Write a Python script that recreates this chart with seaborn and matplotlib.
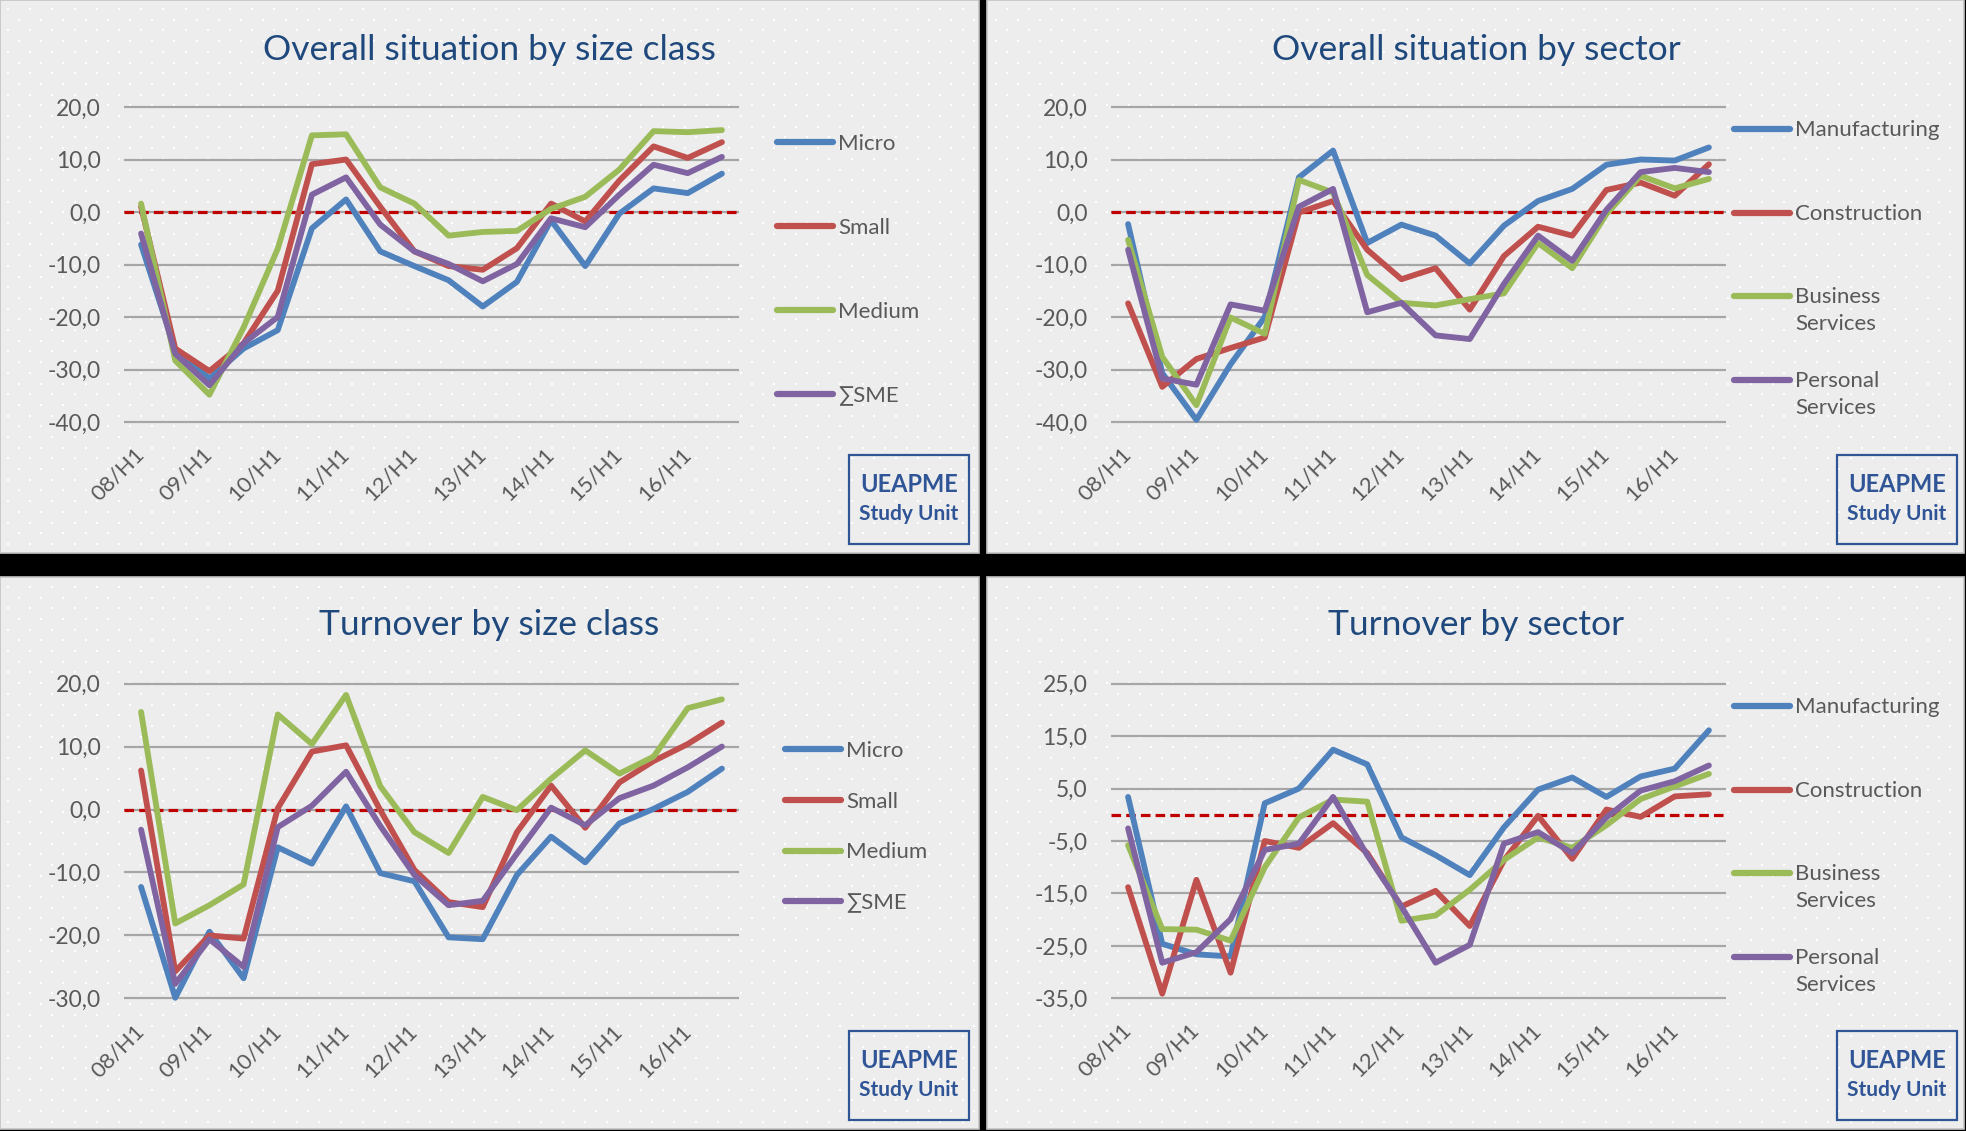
import numpy as np
import pandas as pd
import matplotlib
matplotlib.use("Agg")
import matplotlib.pyplot as plt
import seaborn as sns
from matplotlib.patches import Rectangle
from matplotlib.ticker import FuncFormatter
from matplotlib.offsetbox import HPacker

# ---------------- data ----------------
periods = ["08/H1", "08/H2", "09/H1", "09/H2", "10/H1", "10/H2", "11/H1", "11/H2", "12/H1",
           "12/H2", "13/H1", "13/H2", "14/H1", "14/H2", "15/H1", "15/H2", "16/H1", "16/H2"]

size_series = ["Micro", "Small", "Medium", "∑SME"]
sector_series = ["Manufacturing", "Construction", "Business Services", "Personal Services"]

# Overall situation by size class
os_micro = [-6.2, -26.3, -31.7, -26.0, -22.5, -3.1, 2.4, -7.5, -10.3, -13.0, -18.0, -13.3, -1.6, -10.3, -0.3, 4.5, 3.6, 7.3]
os_small = [1.0, -26.0, -30.3, -25.0, -15.0, 9.1, 10.0, 1.0, -7.5, -10.3, -11.0, -6.9, 1.6, -1.8, 6.0, 12.5, 10.3, 13.3]
os_medium = [1.6, -28.3, -34.8, -22.0, -7.0, 14.6, 14.8, 4.7, 1.6, -4.5, -3.8, -3.6, 0.6, 2.9, 8.1, 15.4, 15.2, 15.6]
os_sme = [-4.1, -27.0, -33.0, -25.0, -20.0, 3.3, 6.6, -2.4, -7.5, -9.9, -13.2, -9.9, -1.2, -2.9, 3.3, 9.0, 7.4, 10.5]

# Overall situation by sector
os_manu = [-2.3, -30.7, -39.6, -29.0, -20.0, 6.6, 11.7, -5.9, -2.4, -4.5, -9.8, -2.6, 2.1, 4.4, 9.0, 10.0, 9.8, 12.3]
os_cons = [-17.4, -33.3, -28.0, -25.9, -23.9, -0.1, 2.1, -7.2, -12.8, -10.7, -18.6, -8.4, -2.8, -4.5, 4.2, 5.6, 3.1, 9.1]
os_bus = [-5.3, -27.6, -36.8, -20.1, -23.2, 6.1, 3.7, -12.0, -17.3, -17.8, -16.6, -15.5, -5.9, -10.7, -0.4, 6.9, 4.5, 6.3]
os_pers = [-7.2, -31.7, -32.9, -17.6, -18.8, 1.0, 4.4, -19.1, -17.3, -23.5, -24.2, -13.7, -4.5, -9.3, 0.4, 7.6, 8.4, 7.6]

# Turnover by size class
to_micro = [-12.3, -29.9, -19.4, -26.8, -6.0, -8.6, 0.5, -10.1, -11.4, -20.3, -20.6, -10.4, -4.3, -8.4, -2.2, 0.1, 2.8, 6.5]
to_small = [6.2, -25.7, -20.0, -20.5, 0.2, 9.2, 10.2, -0.1, -9.6, -14.7, -15.5, -3.6, 3.8, -2.9, 4.3, 7.7, 10.4, 13.8]
to_medium = [15.5, -18.1, -15.2, -11.9, 15.1, 10.4, 18.2, 3.7, -3.6, -6.9, 2.0, -0.1, 4.9, 9.4, 5.7, 8.4, 16.1, 17.5]
to_sme = [-3.2, -27.7, -20.6, -25.0, -2.8, 0.6, 6.0, -2.6, -10.4, -15.2, -14.5, -7.0, 0.3, -2.5, 1.8, 3.8, 6.7, 10.0]

# Turnover by sector
to_manu = [3.4, -24.6, -26.6, -27.0, 2.2, 5.0, 12.4, 9.6, -4.3, -7.7, -11.5, -2.4, 4.8, 7.1, 3.4, 7.3, 8.8, 16.1]
to_cons = [-13.8, -34.1, -12.4, -30.1, -5.0, -6.3, -1.6, -7.3, -17.5, -14.5, -21.2, -8.7, -0.2, -8.4, 1.0, -0.4, 3.5, 3.9]
to_bus = [-5.8, -21.8, -21.9, -24.0, -10.0, -0.5, 2.9, 2.5, -20.2, -19.2, -14.3, -8.6, -4.3, -6.3, -2.0, 3.0, 5.4, 7.8]
to_pers = [-2.6, -28.2, -26.2, -19.9, -6.7, -5.5, 3.4, -7.7, -17.5, -28.2, -24.8, -5.5, -3.3, -7.3, -0.5, 4.6, 6.4, 9.4]

titles = ["Overall situation by size class", "Overall situation by sector",
          "Turnover by size class", "Turnover by sector"]
colors = ["#4F81BD", "#C0504D", "#9BBB59", "#8064A2"]

# ---------------- style ----------------
W, H = 1966, 1131
sns.set_theme(style="white")
plt.rcParams["font.family"] = ["Lato", "DejaVu Sans"]
TXT = "#595959"
NAVY = "#1F497D"
BOX = "#2F5597"

fig = plt.figure(figsize=(W / 100, H / 100), dpi=100, facecolor="black")
bg = fig.add_axes([0, 0, 1, 1], zorder=0)
bg.set_xlim(0, W)
bg.set_ylim(H, 0)
bg.axis("off")

panels = [(0, 0, 979, 553), (987, 0, 1964, 553), (0, 577, 979, 1129), (987, 577, 1964, 1129)]
for (x0, y0, x1, y1) in panels:
    bg.add_patch(Rectangle((x0, y0), x1 - x0, y1 - y0, facecolor="#EDEDED",
                           edgecolor="#C4C4C4", lw=1.2, zorder=0))

# dotted background texture
dx, dy = [], []
for k, yy in enumerate(np.arange(9, H, 10.7)):
    for xx in np.arange(8 + (k % 2) * 11.1, W, 22.2):
        for (x0, y0, x1, y1) in panels:
            if x0 + 3 < xx < x1 - 3 and y0 + 3 < yy < y1 - 3:
                dx.append(xx)
                dy.append(yy)
                break
bg.scatter(dx, dy, s=3.5, marker="s", c="white", linewidths=0, zorder=1)

fmt = FuncFormatter(lambda v, p: f"{v:.1f}".replace(".", ","))


def px_axes(left, right, top, bottom, ymin, ymax, pad=0.45):
    ppu = (bottom - top) / (ymax - ymin)
    t = top - pad * ppu
    b = bottom + pad * ppu
    return fig.add_axes([left / W, 1 - b / H, (right - left) / W, (b - t) / H], zorder=2)


def draw_panel(rect, ylim, yticks, series_names, values, labels, leg_xy, spacing,
               multiline, title, title_xy, box_xy):
    left, right, top, bottom = rect
    ax = px_axes(left, right, top, bottom, ylim[0], ylim[1])
    ax.set_facecolor("none")
    df = pd.DataFrame({
        "x": np.tile(np.arange(len(periods)), len(series_names)),
        "value": np.concatenate(values),
        "series": np.repeat(series_names, len(periods)),
    })
    ax.axhline(0, color="#C00000", lw=2.3, ls=(0, (3, 1.6)), zorder=1.5)
    sns.lineplot(data=df, x="x", y="value", hue="series", hue_order=series_names,
                 palette=colors, linewidth=4.2, ax=ax, legend=True,
                 solid_joinstyle="round", solid_capstyle="round", zorder=2)
    old = ax.get_legend()
    handles = list(old.legend_handles)
    old.remove()
    pad_u = 0.45
    ax.set_ylim(ylim[0] - pad_u, ylim[1] + pad_u)
    ax.set_xlim(-0.5, len(periods) - 0.5)
    ax.set_yticks(yticks)
    ax.yaxis.set_major_formatter(fmt)
    ax.set_xticks(range(0, len(periods), 2))
    ax.set_xticklabels(periods[::2], rotation=45, ha="right", va="center",
                       rotation_mode="anchor")
    ax.tick_params(axis="y", length=0, pad=17, labelsize=16.5, labelcolor=TXT)
    ax.tick_params(axis="x", length=0, pad=19, labelsize=16, labelcolor=TXT)
    ax.set_xlabel("")
    ax.set_ylabel("")
    ax.yaxis.grid(True, color="#A6A6A6", lw=1.6)
    ax.xaxis.grid(False)
    ax.set_axisbelow(True)
    for s in ax.spines.values():
        s.set_visible(False)

    leg = ax.legend(handles, labels, loc="upper left",
                    bbox_to_anchor=(leg_xy[0] / W, 1 - leg_xy[1] / H),
                    bbox_transform=fig.transFigure, frameon=False, fontsize=16,
                    handlelength=2.5, handletextpad=0.25, borderpad=0, borderaxespad=0,
                    labelspacing=spacing, labelcolor=TXT,
                    handleheight=(1.0 if multiline else 0.7))
    for ln in leg.get_lines():
        ln.set_linewidth(4.5)
        ln.set_solid_capstyle("round")
    if multiline:
        for t in leg.get_texts():
            t.set_linespacing(1.4)
        for hp in leg.findobj(HPacker):
            hp.align = "top"

    bg.text(title_xy[0], title_xy[1], title, ha="center", va="baseline",
            fontsize=25.5, color=NAVY, zorder=3)
    bx, by = box_xy
    bg.add_patch(Rectangle((bx, by), 120, 89, fill=False, edgecolor=BOX, lw=1.6, zorder=3))
    bg.text(bx + 60, by + 30, "UEAPME", ha="center", va="center", fontsize=17,
            fontweight="bold", color=BOX, zorder=3)
    bg.text(bx + 60, by + 59, "Study Unit", ha="center", va="center", fontsize=15,
            fontweight="bold", color=BOX, zorder=3)
    return ax


sector_labels = ["Manufacturing\n", "Construction\n", "Business\nServices", "Personal\nServices"]

draw_panel((124, 739, 107, 422), (-40, 20), np.arange(-40, 21, 10), size_series,
           [os_micro, os_small, os_medium, os_sme], size_series, (777, 134), 2.88, False,
           titles[0], (489, 60), (849, 455))
draw_panel((1111, 1726, 107, 422), (-40, 20), np.arange(-40, 21, 10), sector_series,
           [os_manu, os_cons, os_bus, os_pers], sector_labels, (1734, 120), 1.68, True,
           titles[1], (1476, 60), (1837, 455))
draw_panel((124, 739, 683.6, 998.4), (-30, 20), np.arange(-30, 21, 10), size_series,
           [to_micro, to_small, to_medium, to_sme], size_series, (785, 741), 1.38, False,
           titles[2], (489, 635), (849, 1031))
draw_panel((1111, 1726, 683.6, 998.4), (-35, 25), np.arange(-35, 26, 10), sector_series,
           [to_manu, to_cons, to_bus, to_pers], sector_labels, (1734, 697), 1.68, True,
           titles[3], (1476, 635), (1837, 1031))

fig.savefig("out.png", dpi=100, facecolor="black")
